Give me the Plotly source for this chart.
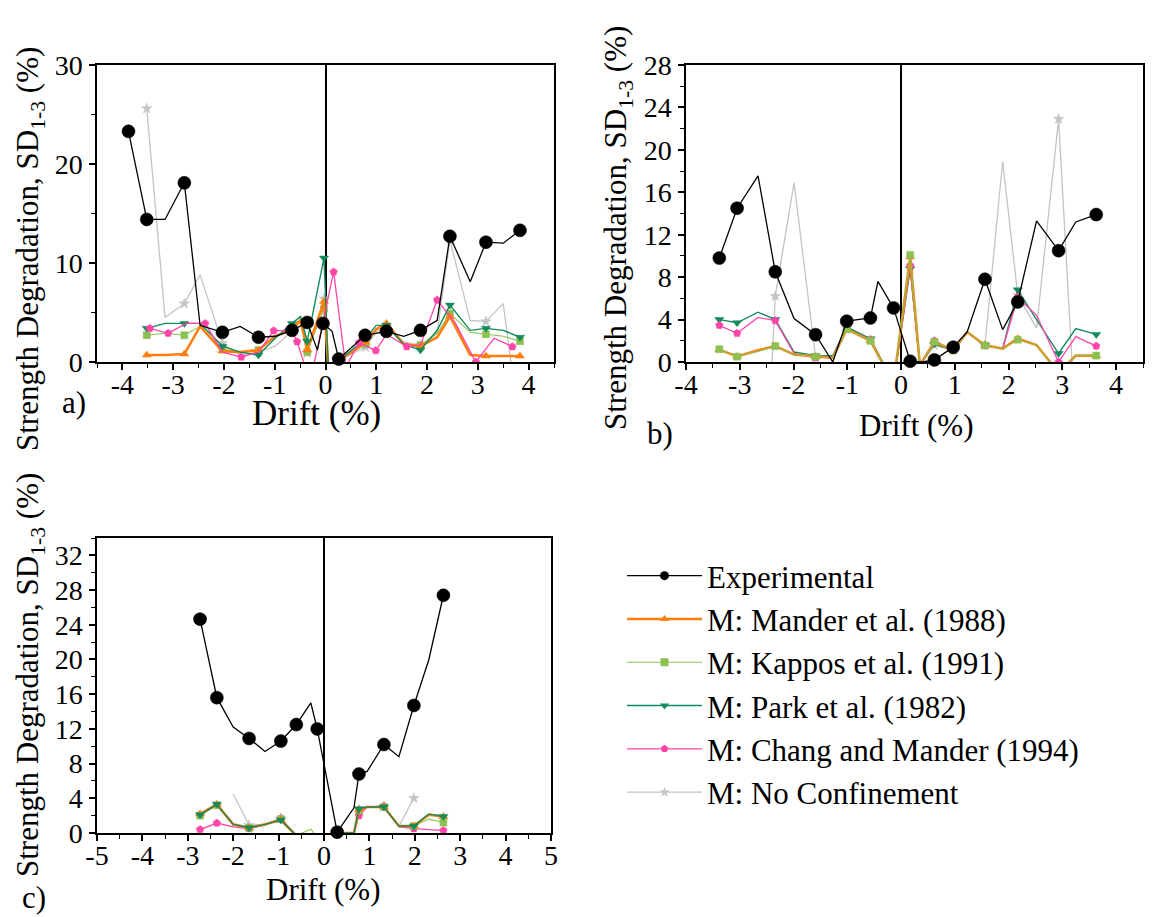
import plotly.graph_objects as go

# ---------------- Panel a ----------------
exp_a_x = [-3.88, -3.52, -3.16, -2.78, -2.47, -2.03, -1.68, -1.32, -0.99, -0.66, -0.36, -0.16, -0.05,
           0.13, 0.26, 0.78, 1.2, 1.54, 1.87, 2.2, 2.45, 2.85, 3.16, 3.5, 3.83]
exp_a_y = [23.3, 14.4, 14.4, 18.1, 3.7, 3.0, 3.6, 2.5, 2.6, 3.2, 4.0, 1.2, 3.9,
           3.1, 0.3, 2.7, 3.1, 2.6, 3.2, 4.2, 12.7, 8.1, 12.1, 12.0, 13.3]
exp_a_pk = [1, 1, 0, 1, 0, 1, 0, 1, 0, 1, 1, 0, 1, 0, 1, 1, 1, 0, 1, 0, 1, 0, 1, 0, 1]

mod_a_x = [-3.52, -3.16, -2.78, -2.47, -2.03, -1.68, -1.32, -0.99, -0.66, -0.49, -0.36, -0.03, 0.06,
           0.26, 0.79, 1.0, 1.2, 1.54, 1.87, 2.2, 2.45, 2.85, 3.16, 3.5, 3.83]
mod_a_pk = [1, 0, 1, 0, 1, 0, 1, 0, 1, 0, 1, 1, 0, 1, 1, 0, 1, 0, 1, 0, 1, 0, 1, 0, 1]
mander_a = [0.7, 0.7, 0.8, 3.6, 1.1, 1.0, 1.2, 2.6, 3.3, 4.2, 1.2, 6.1, -1.0,
            0.1, 2.0, 3.3, 3.9, 1.8, 1.6, 2.5, 4.6, 0.7, 0.6, 0.6, 0.6]
kappos_a = [2.7, 2.9, 2.7, 3.6, 1.3, 1.0, 1.2, 2.6, 3.4, 4.4, 1.0, 5.4, -1.0,
            0.1, 1.8, 3.3, 3.6, 1.8, 1.7, 2.9, 4.9, 3.0, 2.8, 2.6, 2.1]
park_a = [3.4, 3.9, 3.9, 3.9, 1.6, 1.0, 0.7, 2.4, 3.9, 4.6, 2.1, 10.5, -1.0,
          0.1, 2.4, 3.7, 3.7, 1.8, 1.2, 3.2, 5.75, 3.2, 3.4, 3.2, 2.5]
nocon_a = [25.6, 4.5, 5.9, 8.8, 1.9, 0.7, 1.0, 1.6, 3.1, 4.4, 0.9, 6.4, -1.0,
           0.2, 1.5, 3.0, 3.6, 2.0, 1.7, 3.0, 12.3, 4.2, 4.1, 5.9, -7.0]

chang_a_x = [-3.46, -3.1, -2.74, -2.37, -2.03, -1.66, -1.32, -1.02, -0.66, -0.56, -0.3, 0.16, 0.4,
             0.66, 0.99, 1.2, 1.6, 1.87, 2.2, 2.55, 2.96, 3.32, 3.68]
chang_a = [3.4, 2.9, 3.9, 3.9, 1.0, 0.5, 1.0, 3.16, 3.2, 2.05, -2.0, 9.1, -0.5,
           1.95, 1.15, 2.8, 1.55, 1.7, 6.26, 4.0, 0.0, 2.4, 1.55]
chang_a_pk = [1, 1, 0, 1, 0, 1, 0, 1, 0, 1, 0, 1, 0, 1, 1, 0, 1, 0, 1, 0, 1, 0, 1]

# ---------------- Panel b ----------------
exp_b_x = [-3.38, -3.05, -2.66, -2.34, -1.99, -1.59, -1.27, -1.01, -0.57, -0.43, -0.14, 0.17, 0.4,
           0.62, 0.97, 1.23, 1.56, 1.89, 2.17, 2.52, 2.93, 3.25, 3.63]
exp_b_y = [9.8, 14.5, 17.55, 8.5, 4.1, 2.58, 0.0, 3.85, 4.15, 7.6, 5.1, 0.07, 0.0,
           0.2, 1.4, 2.83, 7.8, 3.05, 5.66, 13.3, 10.5, 13.2, 13.9]
exp_b_pk = [1, 1, 0, 1, 0, 1, 0, 1, 1, 0, 1, 1, 0, 1, 1, 0, 1, 0, 1, 0, 1, 0, 1]

mod_b_x = [-3.38, -3.05, -2.66, -2.34, -1.99, -1.59, -1.27, -1.01, -0.57, -0.14, 0.17, 0.35,
           0.62, 0.97, 1.23, 1.56, 1.89, 2.17, 2.52, 2.93, 3.25, 3.63]
mod_b_pk = [1, 1, 0, 1, 0, 1, 0, 1, 1, 0, 1, 0, 1, 1, 0, 1, 0, 1, 0, 1, 0, 1]
mander_b = [1.17, 0.53, 1.1, 1.5, 0.7, 0.5, 0.4, 3.1, 2.0, -2.0, 9.9, -0.3,
            1.9, 1.1, 2.83, 1.57, 1.26, 2.2, 1.6, -1.0, 0.6, 0.6]
kappos_b = [1.2, 0.5, 1.0, 1.5, 0.7, 0.5, 0.4, 3.1, 2.0, -2.0, 10.1, -0.3,
            1.9, 1.1, 2.83, 1.57, 1.26, 2.1, 1.6, -1.0, 0.6, 0.6]
park_b = [4.0, 3.7, 4.7, 4.0, 0.94, 0.6, 0.6, 3.3, 2.2, -2.0, 8.8, -0.3,
          1.7, 1.1, 2.83, 1.57, 1.26, 6.8, 4.0, 0.8, 3.15, 2.6]
chang_b = [3.46, 2.7, 4.2, 3.9, 0.8, 0.4, 0.5, 3.1, 2.1, -2.0, 9.1, -0.3,
           2.0, 1.1, 2.83, 1.57, 1.26, 6.1, 4.4, 0.0, 2.4, 1.5]
nocon_b = [None, None, -27.0, 6.2, 16.9, 0.4, 0.5, 3.1, 2.1, -2.0, 8.8, -0.3,
           1.6, 1.1, 2.83, 1.57, 18.9, 6.3, 3.2, 22.9, -6.4, -6.4]

# ---------------- Panel c ----------------
exp_c_x = [-2.73, -2.36, -2.0, -1.65, -1.3, -0.95, -0.61, -0.29, -0.15, 0.29, 0.66, 0.77, 0.95,
           1.32, 1.65, 1.98, 2.31, 2.63]
exp_c_y = [24.65, 15.6, 12.2, 10.9, 9.4, 10.6, 12.5, 15.0, 12.0, 0.1, 2.9, 6.8, 7.1,
           10.2, 8.8, 14.7, 20.0, 27.4]
exp_c_pk = [1, 1, 0, 1, 0, 1, 1, 0, 1, 1, 0, 1, 0, 1, 0, 1, 0, 1]
mander_c = [2.2, 3.3, 1.0, 0.6, 1.0, 1.5, -0.3, -1.0, -1.0, 0.0, 0.0, 2.7, 3.0, 3.0, 0.8, 0.8, 2.1, 1.9]
kappos_c = [2.0, 3.2, 0.9, 0.6, 0.9, 1.6, -0.3, 0.45, -0.5, 0.0, 0.0, 2.6, 3.0, 3.0, 0.8, 0.8, 1.6, 1.2]
park_c = [2.1, 3.3, 1.0, 0.6, 1.0, 1.5, -0.3, -1.0, -1.0, 0.0, 0.0, 2.8, 3.0, 3.0, 0.8, 0.8, 2.2, 1.9]
chang_c = [0.4, 1.15, 0.7, 0.5, 0.9, 1.7, -0.3, -1.0, -1.0, 0.0, 0.0, 2.0, 3.0, 3.1, 0.7, 0.5, 0.4, 0.3]
nocon_c = [None, None, 4.5, 0.9, 1.0, 1.7, -0.3, -1.0, -1.0, 0.0, 0.0, 2.7, 3.0, 3.0, 0.8, 4.0, None, None]

# ---------------- tick labels ----------------
xt_ab_vals = [-4, -3, -2, -1, 0, 1, 2, 3, 4]
xt_ab_text = ["-4", "-3", "-2", "-1", "0", "1", "2", "3", "4"]
xt_c_vals = [-5, -4, -3, -2, -1, 0, 1, 2, 3, 4, 5]
xt_c_text = ["-5", "-4", "-3", "-2", "-1", "0", "1", "2", "3", "4", "5"]

series_names = ["Experimental", "M: Mander et al. (1988)", "M: Kappos et al. (1991)",
                "M: Park et al. (1982)", "M: Chang and Mander (1994)", "M: No Confinement"]

# ---------------- styles ----------------
STY = {
    "Experimental": dict(color="#000000", width=1.3, symbol="circle", size=13),
    "M: Mander et al. (1988)": dict(color="#ff7f0e", width=2.6, symbol="triangle-up", size=8),
    "M: Kappos et al. (1991)": dict(color="#8cc152", width=1.1, symbol="square", size=7),
    "M: Park et al. (1982)": dict(color="#138a5b", width=1.4, symbol="triangle-down", size=8),
    "M: Chang and Mander (1994)": dict(color="#ff45a8", width=1.3, symbol="pentagon", size=8),
    "M: No Confinement": dict(color="#c4c4c4", width=1.3, symbol="star", size=8),
}
FONT = "Liberation Serif"

fig = go.Figure()


def add(name, x, y, pk, ax):
    s = STY[name]
    sizes = [s["size"] if p else 0 for p in pk]
    fig.add_trace(go.Scatter(
        x=x, y=y, mode="lines+markers", name=name, showlegend=False,
        line=dict(color=s["color"], width=s["width"]),
        marker=dict(symbol=s["symbol"], size=sizes, color=s["color"], opacity=1,
                    line=dict(width=0.5, color=s["color"])),
        xaxis="x" + ax, yaxis="y" + ax,
        cliponaxis=(name != "Experimental"),
    ))


panels = {
    "": [("M: No Confinement", mod_a_x, nocon_a, mod_a_pk),
         ("M: Kappos et al. (1991)", mod_a_x, kappos_a, mod_a_pk),
         ("M: Mander et al. (1988)", mod_a_x, mander_a, mod_a_pk),
         ("M: Park et al. (1982)", mod_a_x, park_a, mod_a_pk),
         ("M: Chang and Mander (1994)", chang_a_x, chang_a, chang_a_pk),
         ("Experimental", exp_a_x, exp_a_y, exp_a_pk)],
    "2": [("M: No Confinement", mod_b_x, nocon_b, mod_b_pk),
          ("M: Park et al. (1982)", mod_b_x, park_b, mod_b_pk),
          ("M: Chang and Mander (1994)", mod_b_x, chang_b, mod_b_pk),
          ("M: Mander et al. (1988)", mod_b_x, mander_b, mod_b_pk),
          ("M: Kappos et al. (1991)", mod_b_x, kappos_b, mod_b_pk),
          ("Experimental", exp_b_x, exp_b_y, exp_b_pk)],
    "3": [("M: No Confinement", exp_c_x, nocon_c, exp_c_pk),
          ("M: Chang and Mander (1994)", exp_c_x, chang_c, exp_c_pk),
          ("M: Kappos et al. (1991)", exp_c_x, kappos_c, exp_c_pk),
          ("M: Mander et al. (1988)", exp_c_x, mander_c, exp_c_pk),
          ("M: Park et al. (1982)", exp_c_x, park_c, exp_c_pk),
          ("Experimental", exp_c_x, exp_c_y, exp_c_pk)],
}
for ax, lst in panels.items():
    for name, x, y, pk in lst:
        add(name, x, y, pk, ax)

# legend-only traces
for name in series_names:
    s = STY[name]
    fig.add_trace(go.Scatter(
        x=[None], y=[None], mode="lines+markers", name=name, showlegend=True,
        line=dict(color=s["color"], width=s["width"]),
        marker=dict(symbol=s["symbol"], size=8 if name != "Experimental" else 9,
                    color=s["color"], line=dict(width=0)),
        xaxis="x", yaxis="y"))

W, H = 1153, 917


def dx(a, b):
    return [a / W, b / W]


def dy(top, bot):
    return [1 - bot / H, 1 - top / H]


ytitle = "Strength Degradation, SD<sub>1-3</sub> (%)"
TICK = 28


def xax(domain, rng, anchor, tv, tt):
    return dict(domain=domain, range=rng, anchor=anchor, tickvals=tv, ticktext=tt,
                showline=True, linecolor="black", linewidth=1.5, mirror=True,
                ticks="outside", ticklen=6, tickwidth=1.5, tickcolor="black",
                minor=dict(dtick=0.5, tick0=0, ticks="outside", ticklen=4, tickwidth=1.2,
                           tickcolor="black"),
                showgrid=False, zeroline=True, zerolinecolor="black", zerolinewidth=1.6,
                tickfont=dict(family=FONT, size=TICK, color="black"),
                ticklabelstandoff=-9,
                automargin=False, fixedrange=True)


def yax(domain, rng, anchor, dt, mdt):
    return dict(domain=domain, range=rng, anchor=anchor, dtick=dt, tick0=0,
                showline=True, linecolor="black", linewidth=1.5, mirror=True,
                ticks="outside", ticklen=6, tickwidth=1.5, tickcolor="black",
                minor=dict(dtick=mdt, ticks="outside", ticklen=4, tickwidth=1.2, tickcolor="black"),
                showgrid=False, zeroline=False,
                tickfont=dict(family=FONT, size=TICK, color="black"),
                ticklabelstandoff=1,
                automargin=False, fixedrange=True)


def note(text, x, y, size, angle=0, yanchor="middle"):
    return dict(text=text, x=x / W, y=1 - y / H, xref="paper", yref="paper", showarrow=False,
                xanchor="center", yanchor=yanchor, textangle=angle,
                font=dict(family=FONT, size=size, color="black"))


fig.update_layout(
    width=W, height=H, margin=dict(l=0, r=0, t=0, b=0, autoexpand=False),
    paper_bgcolor="white", plot_bgcolor="white",
    font=dict(family=FONT, color="black"),
    xaxis=xax(dx(97, 554), [-4.5, 4.5], "y", xt_ab_vals, xt_ab_text),
    yaxis=yax(dy(65, 362), [0, 30], "x", 10, 5),
    xaxis2=xax(dx(686, 1143), [-4, 4.5], "y2", xt_ab_vals, xt_ab_text),
    yaxis2=yax(dy(65, 362), [0, 28], "x2", 4, 2),
    xaxis3=xax(dx(97, 551), [-5, 5], "y3", xt_c_vals, xt_c_text),
    yaxis3=yax(dy(538, 833), [0, 34], "x3", 4, 2),
    legend=dict(x=622 / W, y=1 - 549 / H, xanchor="left", yanchor="top",
                font=dict(family=FONT, size=31, color="black"),
                bgcolor="rgba(0,0,0,0)", itemwidth=75, tracegroupgap=0),
    annotations=[
        note(ytitle, 30, 249, 31, -90),
        note(ytitle, 618, 228, 31, -90),
        note(ytitle, 30, 675, 31, -90),
        note("Drift (%)", 316, 413, 35),
        note("Drift (%)", 916, 425, 31),
        note("Drift (%)", 323, 889, 31),
        note("a)", 74, 402, 31),
        note("b)", 660, 433, 31),
        note("c)", 34, 917, 31, yanchor="bottom"),
    ],
)

fig.write_html("out.html")
